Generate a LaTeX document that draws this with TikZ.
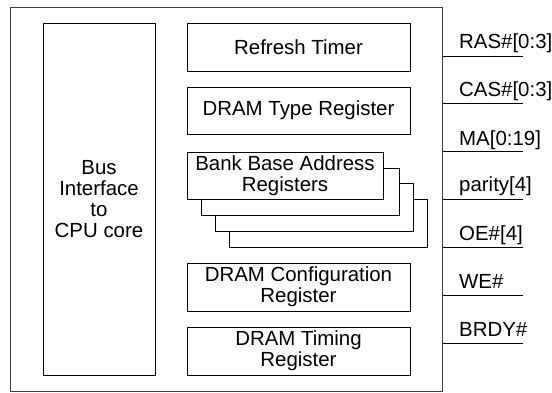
\documentclass[tikz,border=0pt]{standalone}
\usepackage{fontspec}
\setmainfont{Liberation Sans}
\begin{document}
\begin{tikzpicture}[x=1bp,y=-1bp,
  every node/.style={font=\fontsize{20.5}{20.8}\selectfont},
  blk/.style={draw, fill=white, line width=0.9bp, inner sep=0pt, align=center},
  sig/.style={line width=0.9bp},
  lbl/.style={anchor=base west, inner sep=0pt}]
\useasboundingbox (0,0) rectangle (552,392);
% outer frame
\node[draw=black!75, line width=1bp, minimum width=431bp, minimum height=384bp, inner sep=0pt] (outer) at (226.5,199) {};
% bus interface
\node[blk, minimum width=112bp, minimum height=352bp] (bus) at (99,199) {Bus\\Interface\\to\\CPU core};
% right column
\node[blk, minimum width=223bp, minimum height=48bp] (rt) at (298.5,47) {Refresh Timer};
\node[blk, minimum width=223bp, minimum height=47bp] (dt) at (298.5,110.5) {DRAM Type Register};
% stacked bank registers (back to front)
\node[blk, minimum width=198bp, minimum height=48bp] (bb4) at (328,223) {};
\node[blk, minimum width=198bp, minimum height=48bp] (bb3) at (314,207) {};
\node[blk, minimum width=198bp, minimum height=47bp] (bb2) at (300,191.5) {};
\node[blk, minimum width=196bp, minimum height=47bp] (bb1) at (285,175.5) {Bank Base Address\\Registers};
\node[blk, minimum width=223bp, minimum height=48bp] (dc) at (298.5,287) {DRAM Configuration\\Register};
\node[blk, minimum width=223bp, minimum height=48bp] (dtm) at (298.5,351) {DRAM Timing\\Register};
% signal lines
\coordinate (s1) at (523,56);
\coordinate (s2) at (523,103);
\coordinate (s3) at (523,151);
\coordinate (s4) at (523,199);
\coordinate (s5) at (523,247);
\coordinate (s6) at (523,295);
\coordinate (s7) at (523,343);
\foreach \s in {s1,s2,s3,s4,s5,s6,s7}{
  \draw[sig] (outer.east |- \s) -- (\s);
}
\node[lbl] (l1) at ([xshift=-64bp,yshift=8bp]s1) {RAS\#[0:3]};
\node[lbl] (l2) at ([xshift=-64bp,yshift=7bp]s2) {CAS\#[0:3]};
\node[lbl] (l3) at ([xshift=-64bp,yshift=6bp]s3) {MA[0:19]};
\node[lbl] (l4) at ([xshift=-64bp,yshift=8bp]s4) {parity[4]};
\node[lbl] (l5) at ([xshift=-64bp,yshift=7bp]s5) {OE\#[4]};
\node[lbl] (l6) at ([xshift=-64bp,yshift=7bp]s6) {WE\#};
\node[lbl] (l7) at ([xshift=-64bp,yshift=7bp]s7) {BRDY\#};
\end{tikzpicture}
\end{document}
